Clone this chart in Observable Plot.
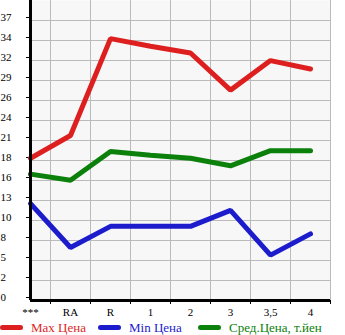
<!DOCTYPE html>
<html>
<head>
<meta charset="utf-8">
<script src="https://cdn.jsdelivr.net/npm/d3@7"></script>
<script src="https://cdn.jsdelivr.net/npm/@observablehq/plot@0.6"></script>
<style>
  html, body { margin: 0; padding: 0; background: #ffffff; }
  #chart svg { display: block; }
  .legend { position: relative; height: 17px; font-family: "Liberation Serif", "DejaVu Serif", serif; font-size: 13px; }
  .legend .item { position: absolute; top: 1px; height: 17px; display: flex; align-items: center; white-space: nowrap; }
  .legend .sw { display: inline-block; width: 23px; height: 5px; border-radius: 3px; margin-right: 8px; }
</style>
</head>
<body>
<div id="chart"></div>
<div class="legend" id="legend"></div>
<script>
const categories = ["***", "RA", "R", "1", "2", "3", "3,5", "4"];
const maxPrice = [18.8, 21.8, 34.6, 33.6, 32.7, 27.8, 31.7, 30.6];
const minPrice = [12.8, 7.0, 9.8, 9.8, 9.8, 11.9, 6.0, 8.8];
const avgPrice = [16.7, 15.9, 19.7, 19.2, 18.8, 17.8, 19.8, 19.8];
const yTickLabels = ["0", "2", "5", "8", "10", "13", "16", "18", "21", "24", "26", "29", "32", "34", "37"];
const yMax = 37;

const seriesNames = ["Max Цена", "Min Цена", "Сред.Цена, т.йен"];
const seriesColors = ["#dd1f1f", "#1c1ccc", "#0b800b"];

const rows = [];
categories.forEach((c, i) => {
  rows.push({i, v: maxPrice[i], s: seriesNames[0]});
  rows.push({i, v: minPrice[i], s: seriesNames[1]});
  rows.push({i, v: avgPrice[i], s: seriesNames[2]});
});

const step = yMax / (yTickLabels.length - 1);
const yTicks = yTickLabels.map((_, k) => k * step);
const yTop = step * yTickLabels.length;
const xIdx = categories.map((_, i) => i);
const xHalf = categories.map((_, i) => i + 0.5);
const gridX = xHalf.slice(0, -1);
const gridY = yTicks.slice(1);

const chart = Plot.plot({
  width: 345,
  height: 318,
  marginLeft: 30,
  marginRight: 15,
  marginTop: 0,
  marginBottom: 18,
  style: {fontFamily: "'Liberation Serif', 'DejaVu Serif', serif", fontSize: "11px", color: "#000", background: "#ffffff"},
  x: {type: "linear", domain: [0, categories.length - 0.5], label: null},
  y: {type: "linear", domain: [0, yTop], label: null},
  color: {domain: seriesNames, range: seriesColors},
  marks: [
    Plot.frame({fill: "#f7f7f7", stroke: null}),
    Plot.ruleX(gridX, {stroke: "#bbbbbb", strokeWidth: 1}),
    Plot.ruleX([categories.length - 0.5], {stroke: "#bbbbbb", strokeWidth: 1}),
    Plot.ruleY(gridY, {stroke: "#bbbbbb", strokeWidth: 1}),
    Plot.axisX({ticks: xHalf, tickSize: 4, tickFormat: () => "", stroke: "#000", label: null}),
    Plot.axisX({ticks: xIdx, tickSize: 0, tickPadding: 8, tickFormat: i => categories[i], fill: "#000", label: null}),
    Plot.axisY({ticks: yTicks, tickSize: 4, tickPadding: 26, textAnchor: "start", dy: -3, tickFormat: (d, k) => yTickLabels[k], fill: "#000", label: null}),
    Plot.line(rows, {x: "i", y: "v", z: "s", stroke: "s", strokeWidth: 5, strokeLinejoin: "miter", strokeLinecap: "round"}),
    Plot.ruleX([0], {stroke: "#000", strokeWidth: 3}),
    Plot.ruleY([0], {stroke: "#000", strokeWidth: 3})
  ]
});
document.getElementById("chart").appendChild(chart);

const legendPos = [0, 98, 198];
const legend = document.getElementById("legend");
seriesNames.forEach((n, k) => {
  const item = document.createElement("div");
  item.className = "item";
  item.style.left = legendPos[k] + "px";
  item.style.color = seriesColors[k];
  const sw = document.createElement("span");
  sw.className = "sw";
  sw.style.background = seriesColors[k];
  item.appendChild(sw);
  item.appendChild(document.createTextNode(n));
  legend.appendChild(item);
});
</script>
</body>
</html>
